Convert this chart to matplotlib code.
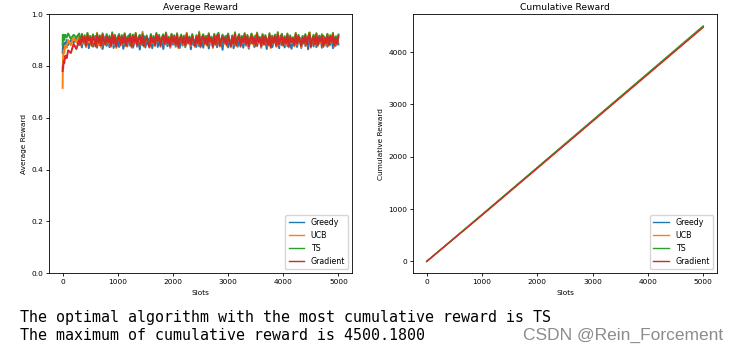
import matplotlib
matplotlib.use('Agg')
import matplotlib.pyplot as plt

early_slots = [1, 5, 10, 20, 30, 50, 75, 100, 150, 200, 250, 300]
slots = early_slots + list(range(325, 5001, 25))

names = ['Greedy', 'UCB', 'TS', 'Gradient']

greedy_avg = [0.85, 0.87, 0.88, 0.87, 0.89, 0.88, 0.90, 0.88, 0.90, 0.89, 0.91, 0.88,
    0.904, 0.871, 0.912, 0.889, 0.876, 0.915, 0.868, 0.897, 0.909, 0.874,
    0.883, 0.916, 0.870, 0.901, 0.879, 0.911, 0.865, 0.893, 0.914, 0.877,
    0.906, 0.872, 0.887, 0.917, 0.869, 0.899, 0.881, 0.910, 0.873, 0.895,
    0.913, 0.866, 0.890, 0.907, 0.875, 0.918, 0.878, 0.902, 0.870, 0.886,
    0.911, 0.874, 0.896, 0.863, 0.908, 0.880, 0.915, 0.871, 0.892, 0.905,
    0.877, 0.912, 0.868, 0.898, 0.884, 0.916, 0.873, 0.903, 0.879, 0.910,
    0.865, 0.894, 0.914, 0.876, 0.900, 0.870, 0.909, 0.882, 0.917, 0.874,
    0.891, 0.906, 0.869, 0.913, 0.878, 0.897, 0.872, 0.911, 0.886, 0.904,
    0.864, 0.915, 0.880, 0.899, 0.873, 0.908, 0.876, 0.893, 0.912, 0.870,
    0.902, 0.883, 0.916, 0.867, 0.895, 0.910, 0.875, 0.888, 0.914, 0.872,
    0.907, 0.879, 0.898, 0.862, 0.911, 0.885, 0.917, 0.871, 0.900, 0.877,
    0.913, 0.868, 0.892, 0.905, 0.874, 0.916, 0.881, 0.896, 0.870, 0.909,
    0.878, 0.914, 0.866, 0.901, 0.887, 0.910, 0.873, 0.918, 0.876, 0.894,
    0.908, 0.870, 0.912, 0.882, 0.899, 0.865, 0.906, 0.879, 0.915, 0.872,
    0.889, 0.911, 0.875, 0.903, 0.868, 0.917, 0.880, 0.897, 0.871, 0.910,
    0.876, 0.913, 0.884, 0.866, 0.905, 0.878, 0.916, 0.873, 0.900, 0.909,
    0.869, 0.893, 0.914, 0.877, 0.908, 0.864, 0.911, 0.882, 0.898, 0.875,
    0.915, 0.872, 0.904, 0.886, 0.910, 0.870, 0.917, 0.879, 0.895, 0.874,
    0.906, 0.881, 0.912, 0.868, 0.901, 0.877, 0.914, 0.883]

ucb_avg = [0.715, 0.80, 0.84, 0.86, 0.85, 0.88, 0.87, 0.90, 0.88, 0.91, 0.89, 0.92,
    0.879, 0.922, 0.885, 0.913, 0.872, 0.926, 0.891, 0.908, 0.876, 0.919,
    0.902, 0.874, 0.928, 0.883, 0.915, 0.870, 0.921, 0.896, 0.880, 0.924,
    0.887, 0.911, 0.873, 0.930, 0.882, 0.917, 0.869, 0.905, 0.920, 0.878,
    0.914, 0.884, 0.925, 0.875, 0.909, 0.893, 0.923, 0.871, 0.918, 0.886,
    0.927, 0.877, 0.906, 0.916, 0.881, 0.932, 0.874, 0.899, 0.912, 0.883,
    0.870, 0.921, 0.888, 0.910, 0.876, 0.926, 0.894, 0.915, 0.873, 0.903,
    0.919, 0.880, 0.929, 0.885, 0.907, 0.872, 0.922, 0.890, 0.913, 0.877,
    0.924, 0.868, 0.901, 0.917, 0.882, 0.911, 0.875, 0.928, 0.886, 0.909,
    0.878, 0.920, 0.895, 0.873, 0.916, 0.884, 0.933, 0.871, 0.905, 0.919,
    0.883, 0.912, 0.876, 0.925, 0.890, 0.908, 0.869, 0.921, 0.880, 0.914,
    0.927, 0.874, 0.898, 0.918, 0.885, 0.910, 0.877, 0.923, 0.892, 0.871,
    0.915, 0.882, 0.930, 0.876, 0.906, 0.920, 0.873, 0.912, 0.887, 0.926,
    0.879, 0.917, 0.870, 0.903, 0.924, 0.884, 0.911, 0.875, 0.929, 0.889,
    0.908, 0.872, 0.921, 0.881, 0.916, 0.893, 0.878, 0.925, 0.869, 0.913,
    0.886, 0.919, 0.874, 0.931, 0.880, 0.905, 0.922, 0.877, 0.910, 0.883,
    0.924, 0.871, 0.914, 0.888, 0.907, 0.875, 0.927, 0.882, 0.918, 0.896,
    0.873, 0.912, 0.885, 0.920, 0.878, 0.909, 0.930, 0.870, 0.903, 0.917,
    0.881, 0.926, 0.876, 0.913, 0.891, 0.921, 0.872, 0.908, 0.884, 0.923,
    0.877, 0.915, 0.889, 0.928, 0.874, 0.910, 0.882, 0.919]

ts_avg = [0.88, 0.92, 0.90, 0.92, 0.90, 0.92, 0.91, 0.925, 0.905, 0.92, 0.91, 0.925,
    0.886, 0.924, 0.897, 0.919, 0.881, 0.927, 0.905, 0.916, 0.884, 0.922,
    0.909, 0.879, 0.925, 0.893, 0.918, 0.883, 0.926, 0.900, 0.887, 0.921,
    0.895, 0.917, 0.880, 0.928, 0.891, 0.920, 0.876, 0.912, 0.923, 0.885,
    0.919, 0.890, 0.926, 0.882, 0.914, 0.898, 0.924, 0.878, 0.921, 0.893,
    0.927, 0.884, 0.911, 0.920, 0.888, 0.925, 0.880, 0.906, 0.918, 0.889,
    0.877, 0.923, 0.894, 0.916, 0.883, 0.927, 0.899, 0.920, 0.881, 0.910,
    0.922, 0.887, 0.928, 0.891, 0.913, 0.879, 0.924, 0.896, 0.918, 0.884,
    0.926, 0.875, 0.907, 0.921, 0.889, 0.917, 0.882, 0.925, 0.892, 0.914,
    0.885, 0.923, 0.900, 0.880, 0.919, 0.890, 0.928, 0.878, 0.911, 0.922,
    0.889, 0.916, 0.883, 0.926, 0.896, 0.913, 0.876, 0.924, 0.887, 0.919,
    0.927, 0.881, 0.904, 0.921, 0.892, 0.915, 0.884, 0.925, 0.898, 0.878,
    0.918, 0.888, 0.928, 0.883, 0.910, 0.923, 0.880, 0.916, 0.893, 0.926,
    0.886, 0.920, 0.877, 0.908, 0.925, 0.890, 0.914, 0.882, 0.927, 0.895,
    0.912, 0.879, 0.923, 0.887, 0.919, 0.899, 0.884, 0.926, 0.874, 0.917,
    0.892, 0.921, 0.881, 0.928, 0.886, 0.909, 0.924, 0.883, 0.915, 0.889,
    0.925, 0.878, 0.918, 0.894, 0.911, 0.882, 0.927, 0.888, 0.920, 0.901,
    0.880, 0.916, 0.891, 0.923, 0.885, 0.913, 0.928, 0.877, 0.907, 0.920,
    0.887, 0.926, 0.883, 0.917, 0.897, 0.922, 0.879, 0.912, 0.890, 0.924,
    0.884, 0.919, 0.895, 0.927, 0.881, 0.914, 0.888, 0.921]

gradient_avg = [0.78, 0.80, 0.79, 0.82, 0.81, 0.84, 0.83, 0.86, 0.85, 0.885, 0.865, 0.90,
    0.883, 0.917, 0.892, 0.911, 0.878, 0.919, 0.899, 0.908, 0.880, 0.915,
    0.903, 0.876, 0.918, 0.888, 0.912, 0.879, 0.920, 0.895, 0.884, 0.914,
    0.890, 0.910, 0.877, 0.921, 0.886, 0.913, 0.874, 0.905, 0.916, 0.881,
    0.912, 0.887, 0.919, 0.879, 0.907, 0.894, 0.917, 0.875, 0.914, 0.889,
    0.920, 0.880, 0.904, 0.913, 0.885, 0.918, 0.877, 0.900, 0.911, 0.886,
    0.874, 0.916, 0.891, 0.909, 0.880, 0.921, 0.896, 0.913, 0.878, 0.904,
    0.915, 0.884, 0.922, 0.887, 0.906, 0.876, 0.918, 0.892, 0.911, 0.881,
    0.919, 0.873, 0.901, 0.914, 0.886, 0.910, 0.879, 0.920, 0.889, 0.907,
    0.882, 0.916, 0.897, 0.877, 0.912, 0.887, 0.921, 0.875, 0.905, 0.915,
    0.886, 0.909, 0.880, 0.919, 0.893, 0.906, 0.874, 0.917, 0.884, 0.912,
    0.920, 0.878, 0.899, 0.914, 0.889, 0.908, 0.881, 0.918, 0.894, 0.876,
    0.911, 0.885, 0.921, 0.880, 0.904, 0.916, 0.877, 0.909, 0.890, 0.919,
    0.883, 0.913, 0.875, 0.902, 0.918, 0.887, 0.907, 0.879, 0.920, 0.892,
    0.906, 0.876, 0.916, 0.884, 0.912, 0.896, 0.881, 0.919, 0.872, 0.910,
    0.889, 0.914, 0.878, 0.921, 0.883, 0.903, 0.917, 0.880, 0.908, 0.886,
    0.918, 0.875, 0.911, 0.891, 0.905, 0.879, 0.920, 0.885, 0.913, 0.898,
    0.877, 0.909, 0.888, 0.916, 0.882, 0.907, 0.921, 0.874, 0.901, 0.913,
    0.884, 0.919, 0.880, 0.910, 0.894, 0.915, 0.876, 0.906, 0.887, 0.917,
    0.881, 0.912, 0.892, 0.920, 0.878, 0.908, 0.885, 0.914]

# cumulative reward read at a few slots
cum_slots = [0, 1000, 2000, 3000, 4000, 5000]
greedy_cum = [0, 893, 1790, 2688, 3585, 4482]
ucb_cum = [0, 890, 1787, 2686, 3585, 4484]
ts_cum = [0, 895, 1796, 2697, 3598, 4500]
gradient_cum = [0, 882, 1778, 2676, 3574, 4472]

avg_data = [greedy_avg, ucb_avg, ts_avg, gradient_avg]
cum_data = [greedy_cum, ucb_cum, ts_cum, gradient_cum]

fs = 5.3
plt.rcParams['axes.linewidth'] = 0.6
plt.rcParams['xtick.major.width'] = 0.6
plt.rcParams['ytick.major.width'] = 0.6
plt.rcParams['xtick.major.size'] = 2
plt.rcParams['ytick.major.size'] = 2
plt.rcParams['xtick.major.pad'] = 2
plt.rcParams['ytick.major.pad'] = 2

fig = plt.figure(figsize=(7.4, 3.52), dpi=100)
ax1 = fig.add_axes([0.066, 0.224, 0.410, 0.736])
ax2 = fig.add_axes([0.558, 0.224, 0.411, 0.736])

for name, vals in zip(names, avg_data):
    ax1.plot(slots, vals, linewidth=1.4, label=name)
ax1.set_ylim(0, 1.0)
ax1.set_title('Average Reward', fontsize=6.6, pad=3)
ax1.set_xlabel('Slots', fontsize=fs, labelpad=4)
ax1.set_ylabel('Average Reward', fontsize=fs, labelpad=3)
ax1.tick_params(labelsize=fs)
leg1 = ax1.legend(loc='lower right', fontsize=5.7)
for line in leg1.get_lines():
    line.set_linewidth(1.0)

for name, vals in zip(names, cum_data):
    ax2.plot(cum_slots, vals, linewidth=1.0, label=name)
ax2.set_title('Cumulative Reward', fontsize=6.6, pad=3)
ax2.set_xlabel('Slots', fontsize=fs, labelpad=4)
ax2.set_ylabel('Cumulative Reward', fontsize=fs, labelpad=3)
ax2.tick_params(labelsize=fs)
ax2.legend(loc='lower right', fontsize=5.7)

fig.text(20 / 740, 1 - 322 / 352, 'The optimal algorithm with the most cumulative reward is TS',
         family='DejaVu Sans Mono', fontsize=10.8, va='baseline')
fig.text(20 / 740, 1 - 340 / 352, 'The maximum of cumulative reward is 4500.1800',
         family='DejaVu Sans Mono', fontsize=10.8, va='baseline')
fig.text(723 / 740, 1 - 340 / 352, 'CSDN @Rein_Forcement', ha='right', va='baseline',
         family='Liberation Sans', fontsize=12.5, color='#8c8c8c')

fig.savefig('out.png', dpi=100)
